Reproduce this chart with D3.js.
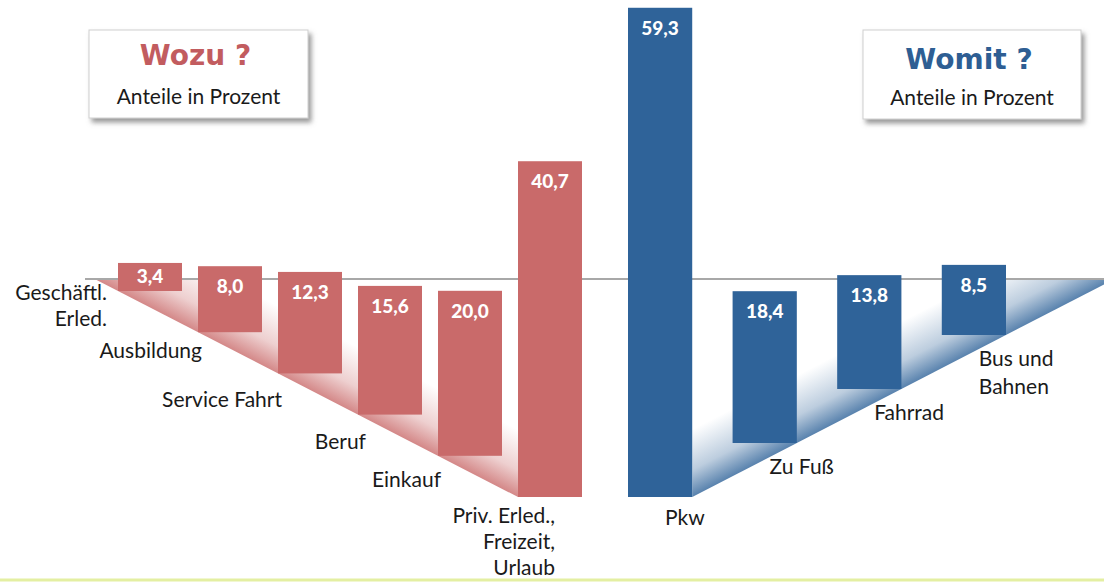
<!DOCTYPE html>
<html>
<head>
<meta charset="utf-8">
<script src="https://cdn.jsdelivr.net/npm/d3@7"></script>
<style>
  html, body { margin: 0; padding: 0; background: #fff; }
  svg { display: block; }
</style>
</head>
<body>
<div id="chart"></div>
<script>
// Wozu ? - trip purpose, shares in percent
const purposeLabels = [["Geschäftl.", "Erled."], ["Ausbildung"], ["Service Fahrt"], ["Beruf"], ["Einkauf"], ["Priv. Erled.,", "Freizeit,", "Urlaub"]];
const purposeValues = [3.4, 8.0, 12.3, 15.6, 20.0, 40.7];

// Womit ? - mode of transport, shares in percent
const modeLabels = [["Pkw"], ["Zu Fuß"], ["Fahrrad"], ["Bus und", "Bahnen"]];
const modeValues = [59.3, 18.4, 13.8, 8.5];

const boxTitles = ["Wozu ?", "Womit ?"];
const boxSubtitle = "Anteile in Prozent";

const width = 1104, height = 582;
const baseY = 279;
const red = "#c96a6a", blue = "#2f6399";
const font = "Lato, 'Open Sans', sans-serif";

// german decimal comma
const fmt = d3.formatLocale({decimal: ",", thousands: ".", grouping: [3], currency: ["", " €"]}).format(".1f");

const svg = d3.select('#chart')
  .append('svg')
  .attr('width', width)
  .attr('height', height);

// bar height scale (same for both halves)
const h = d3.scaleLinear().domain([0, 60]).range([0, 495]);

// left half: bars hang on a falling floor line
const xRed = d3.scaleBand()
  .domain(d3.range(purposeValues.length))
  .range([110, 590])
  .paddingInner(0.2)
  .paddingOuter(0.1);
const floorRed = d3.scaleLinear().domain([0, purposeValues.length - 1]).range([291, 497]);

// right half: floor rises again
const xBlue = d3.scaleBand()
  .domain(d3.range(modeValues.length))
  .range([628, 1006])
  .paddingInner(0.386)
  .paddingOuter(0);
const floorBlue = d3.scaleLinear().domain([0, modeValues.length - 1]).range([497, 335]);

const defs = svg.append('defs');

var shadow = defs.append('filter').attr('id', 'boxshadow')
  .attr('x', '-10%').attr('y', '-10%').attr('width', '130%').attr('height', '140%');
shadow.append('feDropShadow')
  .attr('dx', 3).attr('dy', 4).attr('stdDeviation', 2.5)
  .attr('flood-color', '#777').attr('flood-opacity', 0.75);

function fadeGradient(id, color, p, n, len) {
  var g = defs.append('linearGradient').attr('id', id)
    .attr('gradientUnits', 'userSpaceOnUse')
    .attr('x1', p[0]).attr('y1', p[1])
    .attr('x2', p[0] + n[0] * len).attr('y2', p[1] + n[1] * len);
  g.append('stop').attr('offset', 0).attr('stop-color', color).attr('stop-opacity', 0.8);
  g.append('stop').attr('offset', 0.4).attr('stop-color', color).attr('stop-opacity', 0.32);
  g.append('stop').attr('offset', 1).attr('stop-color', color).attr('stop-opacity', 0);
}

// red shadow wedge along bottom-left corners
const rn = purposeValues.length - 1;
const rSlope = (floorRed(rn) - floorRed(0)) / (xRed(rn) - xRed(0));
const rStart = [xRed(0) - (floorRed(0) - baseY) / rSlope, baseY];
const rEnd = [xRed(rn), floorRed(rn)];
var rLen = Math.hypot(rSlope, 1);
fadeGradient('redfade', red, [(rStart[0] + rEnd[0]) / 2, (rStart[1] + rEnd[1]) / 2], [rSlope / rLen, -1 / rLen], 60);

svg.append('path')
  .attr('d', d3.line()([rStart, rEnd, [xRed(rn), baseY]]) + 'Z')
  .attr('fill', 'url(#redfade)');

// blue shadow wedge along bottom-right corners
const bn = modeValues.length - 1;
const bw = xBlue.bandwidth();
const bSlope = (floorBlue(bn) - floorBlue(0)) / (xBlue(bn) - xBlue(0));
const bStart = [xBlue(0) + bw, floorBlue(0)];
const bTip = [bStart[0] + (baseY - floorBlue(0)) / bSlope, baseY];
var bLen = Math.hypot(bSlope, 1);
fadeGradient('bluefade', blue, [(bStart[0] + bTip[0]) / 2, (bStart[1] + bTip[1]) / 2], [bSlope / bLen, -1 / bLen], 60);

svg.append('path')
  .attr('d', d3.line()([bStart, bTip, [bStart[0], baseY]]) + 'Z')
  .attr('fill', 'url(#bluefade)');

// zero line
svg.append('line')
  .attr('x1', 85).attr('x2', width)
  .attr('y1', baseY).attr('y2', baseY)
  .attr('stroke', '#a8a8a8')
  .attr('stroke-width', 2);

// bottom rule
svg.append('line')
  .attr('x1', 0).attr('x2', width)
  .attr('y1', 580).attr('y2', 580)
  .attr('stroke', '#e4efa2')
  .attr('stroke-width', 3);

function drawBars(values, x, floor, color) {
  var g = svg.append('g');
  g.selectAll('rect')
    .data(values)
    .enter().append('rect')
    .attr('x', (d, i) => x(i))
    .attr('y', (d, i) => floor(i) - h(d))
    .attr('width', x.bandwidth())
    .attr('height', (d) => h(d))
    .attr('fill', color);

  g.selectAll('text')
    .data(values)
    .enter().append('text')
    .attr('x', (d, i) => x(i) + x.bandwidth() / 2)
    .attr('y', (d, i) => floor(i) - h(d) + Math.min(27, h(d) * 0.72))
    .attr('text-anchor', 'middle')
    .attr('fill', '#fff')
    .attr('font-family', font)
    .attr('font-weight', 900)
    .attr('font-size', 19)
    .text((d) => fmt(d));
}

drawBars(purposeValues, xRed, floorRed, red);
drawBars(modeValues, xBlue, floorBlue, blue);

// category labels, hand nudged like the original
const redShift = [[-11, 9], [4, 26], [4, 34], [8, 34], [3, 31], [37, 26]];
const lineGap = 26;

svg.append('g').selectAll('text')
  .data(purposeLabels)
  .enter().append('text')
  .attr('text-anchor', 'end')
  .attr('font-family', font)
  .attr('font-size', 21)
  .attr('fill', '#1a1a1a')
  .each(function(lines, i) {
    var t = d3.select(this);
    lines.forEach((s, k) => {
      t.append('tspan')
        .attr('x', xRed(i) + redShift[i][0])
        .attr('y', floorRed(i) + redShift[i][1] + k * lineGap)
        .text(s);
    });
  });

svg.append('g').selectAll('text')
  .data(modeLabels)
  .enter().append('text')
  .attr('text-anchor', 'start')
  .attr('font-family', font)
  .attr('font-size', 21)
  .attr('fill', '#1a1a1a')
  .each(function(lines, i) {
    var t = d3.select(this);
    lines.forEach((s, k) => {
      t.append('tspan')
        .attr('x', xBlue(i) + 37)
        .attr('y', floorBlue(i) + (i == 0 ? 28 : 31) + k * 28)
        .text(s);
    });
  });

// the two title boxes
const boxes = [
  {x: 89, y: 30, w: 219, h: 88, color: '#c25c5f', ty: 65, sy: 104},
  {x: 863, y: 30, w: 218, h: 89, color: '#2e5e93', ty: 69, sy: 105}
];

boxes.forEach((b, i) => {
  var g = svg.append('g');
  g.append('rect')
    .attr('x', b.x).attr('y', b.y)
    .attr('width', b.w).attr('height', b.h)
    .attr('fill', '#fff')
    .attr('stroke', '#cfcfcf')
    .attr('filter', 'url(#boxshadow)');
  g.append('text')
    .attr('x', b.x + b.w / 2 - 3).attr('y', b.ty)
    .attr('text-anchor', 'middle')
    .attr('font-family', "'DejaVu Sans', sans-serif")
    .attr('font-weight', 'bold')
    .attr('font-size', 28)
    .attr('fill', b.color)
    .text(boxTitles[i]);
  g.append('text')
    .attr('x', b.x + b.w / 2).attr('y', b.sy)
    .attr('text-anchor', 'middle')
    .attr('font-family', font)
    .attr('font-size', 21)
    .attr('fill', '#1a1a1a')
    .text(boxSubtitle);
});
</script>
</body>
</html>
